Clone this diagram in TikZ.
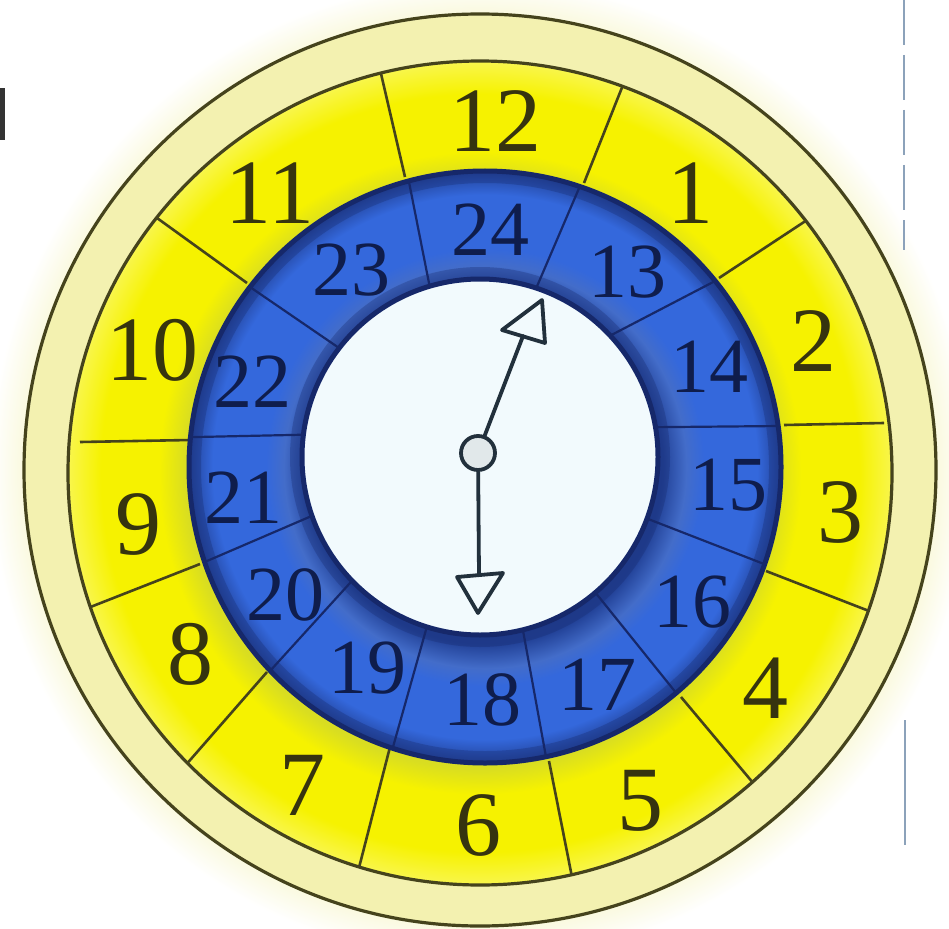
\documentclass[tikz,border=0pt]{standalone}
\usepackage{fontspec}
\setmainfont{Liberation Serif}
\usetikzlibrary{calc}
\definecolor{ylw}{HTML}{F6F200}
\definecolor{pale}{HTML}{F3F1B0}
\definecolor{blu}{HTML}{3468DC}
\definecolor{navy}{HTML}{16286A}
\definecolor{olive}{HTML}{45431C}
\definecolor{ink}{HTML}{36340F}
\definecolor{bink}{HTML}{0F1D4C}
\definecolor{ctr}{HTML}{F2FAFD}
\definecolor{handc}{HTML}{22303C}
\definecolor{scan}{HTML}{8CA2BA}
\pgfdeclareradialshading{halo}{\pgfpoint{0bp}{0bp}}{color(0bp)=(pale); color(23.2bp)=(pale); color(23.3bp)=(pale!40!white); color(25bp)=(white); color(50bp)=(white)}
\pgfdeclareradialshading{ybandsh}{\pgfpoint{0bp}{0bp}}{color(0bp)=(ylw!85!blu); color(17.9bp)=(ylw!85!blu); color(19.5bp)=(ylw); color(23bp)=(ylw); color(25bp)=(ylw!70!white); color(50bp)=(ylw!70!white)}
\pgfdeclareradialshading{bsh}{\pgfpoint{0bp}{0bp}}{color(0bp)=(navy); color(15bp)=(navy!60!blu); color(17bp)=(blu!80!gray); color(18.5bp)=(blu); color(23bp)=(blu); color(25bp)=(navy!60!blu); color(50bp)=(navy!60!blu)}
\tikzset{
  ylab/.style={font=\fontsize{92}{92}\selectfont, text=ink, inner sep=0pt},
  blab/.style={font=\fontsize{78}{78}\selectfont, text=bink, inner sep=0pt},
  ydiv/.style={draw=olive, line width=2.6pt},
  bdiv/.style={draw=navy, line width=2.2pt},
  ring/.style={draw=olive, line width=3.2pt},
  handline/.style={draw=handc, line width=3.8pt, line join=round, line cap=round}
}
\begin{document}
\begin{tikzpicture}[x=1pt,y=-1pt]
\useasboundingbox (0,0) rectangle (949,928);
\fill[white] (0,0) rectangle (949,928);
% halo and outer band
\path[shade, shading=halo] (480,470) circle[radius=490];
\draw[ring] (480,470) circle[radius=456];
% yellow band
\path[shade, shading=ybandsh] (480,473) circle[radius=412];
\begin{scope}
  \clip (480,473) circle[radius=412];
  \coordinate (a1) at (405,177); \coordinate (b1) at (382,78);
  \coordinate (a2) at (584,183); \coordinate (b2) at (621,90);
  \coordinate (a3) at (719,278); \coordinate (b3) at (804,222);
  \coordinate (a4) at (766,571); \coordinate (b4) at (869,611);
  \coordinate (a5) at (681,697); \coordinate (b5) at (754,784);
  \coordinate (a6) at (549,761); \coordinate (b6) at (571,872);
  \coordinate (a7) at (390,747); \coordinate (b7) at (362,856);
  \coordinate (a8) at (267,672); \coordinate (b8) at (198,751);
  \coordinate (a9) at (200,564); \coordinate (b9) at (93,606);
  \coordinate (a10) at (247,283); \coordinate (b10) at (157,218);
  \foreach \i in {1,...,10}{
    \draw[ydiv] (a\i) -- ($(a\i)!1.15!(b\i)$);
  }
\end{scope}
\coordinate (a11) at (784,425); \coordinate (b11) at (884,423);
\coordinate (a12) at (190,440); \coordinate (b12) at (80,442);
\draw[ydiv] (a11) -- (b11);
\draw[ydiv] (a12) -- (b12);
\draw[ring] (480,473) circle[radius=412];
% blue band
\path[shade, shading=bsh] (485,467) circle[radius=296];
\begin{scope}
  \clip (485,467) circle[radius=296];
  \coordinate (c1) at (427,273); \coordinate (d1) at (410,187);
  \coordinate (c2) at (541,277); \coordinate (d2) at (577,193);
  \coordinate (c3) at (621,330); \coordinate (d3) at (717,280);
  \coordinate (c4) at (674,427); \coordinate (d4) at (781,426);
  \coordinate (c5) at (661,524); \coordinate (d5) at (764,564);
  \coordinate (c6) at (607,607); \coordinate (d6) at (677,694);
  \coordinate (c7) at (526,647); \coordinate (d7) at (546,757);
  \coordinate (c8) at (422,644); \coordinate (d8) at (393,747);
  \coordinate (c9) at (340,594); \coordinate (d9) at (270,671);
  \coordinate (c10) at (293,524); \coordinate (d10) at (207,561);
  \coordinate (c11) at (290,435); \coordinate (d11) at (197,437);
  \coordinate (c12) at (323,337); \coordinate (d12) at (250,287);
  \foreach \i in {1,...,12}{
    \draw[bdiv] ($(c\i)!-0.2!(d\i)$) -- ($(c\i)!1.2!(d\i)$);
  }
  \draw[navy, line width=12pt, opacity=0.3] (485,467) circle[radius=290];
  \draw[navy, line width=12pt, opacity=0.3] (480,457) circle[radius=184];
\end{scope}
\draw[navy, line width=5pt] (485,467) circle[radius=296];
% white centre
\draw[fill=ctr, draw=navy, line width=5pt] (480,457) circle[radius=178];
% hour labels
\node[ylab] (h12) at (495,121) {12};
\node[ylab] (h1) at (690,193) {1};
\node[ylab] (h2) at (813,341) {2};
\node[ylab] (h3) at (840,512) {3};
\node[ylab] (h4) at (765,688) {4};
\node[ylab] (h5) at (640,801) {5};
\node[ylab] (h6) at (478,825) {6};
\node[ylab] (h7) at (302,785) {7};
\node[ylab] (h8) at (190,654) {8};
\node[ylab] (h9) at (138,524) {9};
\node[ylab] (h10) at (152,350) {10};
\node[ylab] (h11) at (270,193) {11};
\node[blab] (h24) at (490,230) {24};
\node[blab] (h13) at (627,272) {13};
\node[blab] (h14) at (709,367) {14};
\node[blab] (h15) at (728,485) {15};
\node[blab] (h16) at (692,602) {16};
\node[blab] (h17) at (597,685) {17};
\node[blab] (h18) at (482,700) {18};
\node[blab] (h19) at (367,668) {19};
\node[blab] (h20) at (285,595) {20};
\node[blab] (h21) at (243,498) {21};
\node[blab] (h22) at (252,382) {22};
\node[blab] (h23) at (351,270) {23};
% hands
\node[circle, draw=handc, line width=3.8pt, fill=ctr!85!gray, minimum size=34pt, inner sep=0pt] (piv) at (478,453) {};
\coordinate (ub) at (523,336);
\coordinate (lb) at (479,575);
\draw[handline] (piv) -- (ub);
\draw[handline] (piv) -- (lb);
\draw[handline] (542,300) -- (502,330) -- (545,343) -- cycle;
\draw[handline] (457,577) -- (503,573) -- (478,613) -- cycle;
% scan edge marks
\draw[scan, line width=2.5pt, dash pattern=on 45pt off 10pt] (904,0) -- (904,250);
\draw[scan, line width=2.5pt] (905,720) -- (905,845);
\fill[black!80] (0,88) rectangle (5,140);
\end{tikzpicture}
\end{document}
